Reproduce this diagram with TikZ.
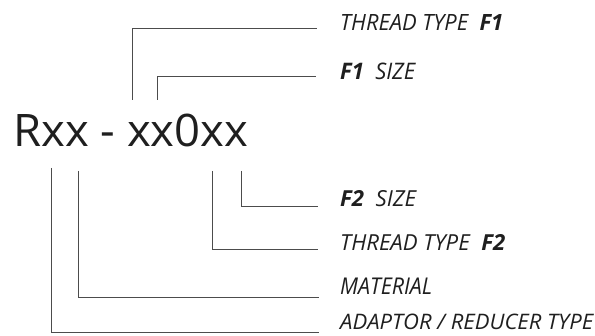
\documentclass[tikz,border=0pt]{standalone}
\usepackage{fontspec}
\setmainfont{Open Sans}
\usepackage{graphicx}
\begin{document}
\begin{tikzpicture}[x=1pt,y=-1pt,
  lead/.style={draw=black!70, line width=0.9pt},
  lab/.style={anchor=base west, inner sep=0pt, text=black!88, font=\itshape},
  code/.style={anchor=base west, inner sep=0pt, text=black!88}]
\useasboundingbox (0,0) rectangle (595,336);
\node[code] (main) at (13,147) {\resizebox{235pt}{32.5pt}{Rxx - xx0xx}};
% label nodes
\node[lab] (l1) at (340,31) {\resizebox{163pt}{16pt}{THREAD TYPE\ \ \textbf{F1}}};
\node[lab] (l2) at (340,80) {\resizebox{75pt}{16.5pt}{\textbf{F1}\ \ SIZE}};
\node[lab] (l3) at (340,207) {\resizebox{76pt}{16pt}{\textbf{F2}\ \ SIZE}};
\node[lab] (l4) at (340,250.5) {\resizebox{165pt}{16pt}{THREAD TYPE\ \ \textbf{F2}}};
\node[lab] (l5) at (340,295) {\resizebox{92pt}{16.5pt}{MATERIAL}};
\node[lab] (l6) at (340,329.5) {\resizebox{253pt}{15.5pt}{ADAPTOR / REDUCER TYPE}};
% connector start points on the code
\coordinate (s1) at (132,100);
\coordinate (s2) at (157,100);
\coordinate (s3) at (241,171);
\coordinate (s4) at (212,171);
\coordinate (s5) at (78,171);
\coordinate (s6) at (51,168);
% connector ends before the labels
\coordinate (e1) at (317,28);
\coordinate (e2) at (316,76);
\coordinate (e3) at (318,206);
\coordinate (e4) at (318,249);
\coordinate (e5) at (319,297);
\coordinate (e6) at (319,332);
\draw[lead] (s1) |- (e1);
\draw[lead] (s2) |- (e2);
\draw[lead] (s3) |- (e3);
\draw[lead] (s4) |- (e4);
\draw[lead] (s5) |- (e5);
\draw[lead] (s6) |- (e6);
\end{tikzpicture}
\end{document}
